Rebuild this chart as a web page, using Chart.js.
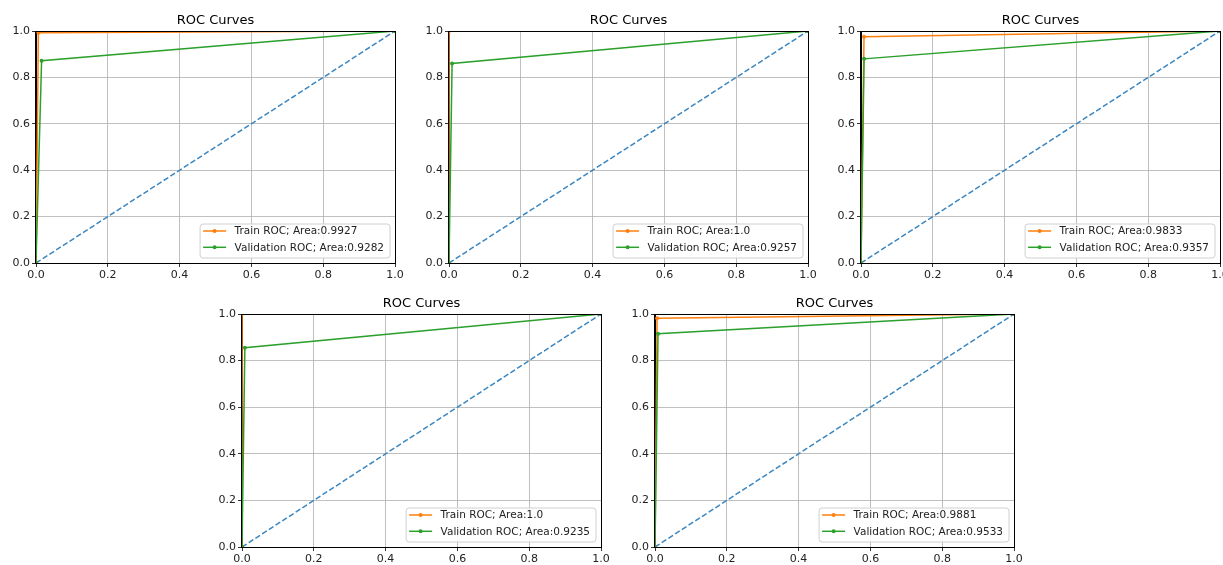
<!DOCTYPE html>
<html>
<head>
<meta charset="utf-8">
<script src="https://cdn.jsdelivr.net/npm/chart.js@4.4.0/dist/chart.umd.min.js"></script>
<style>
  body { margin: 0; background: #fff; width: 1223px; height: 565px; position: relative; overflow: hidden; }
  canvas { position: absolute; }
</style>
</head>
<body>
<canvas id="roc0"></canvas>
<canvas id="roc1"></canvas>
<canvas id="roc2"></canvas>
<canvas id="roc3"></canvas>
<canvas id="roc4"></canvas>
<script>
// dados das curvas ROC (um item por fold)
const trainAuc = ['0.9927', '1.0', '0.9833', '1.0', '0.9881'];
const valAuc = ['0.9282', '0.9257', '0.9357', '0.9235', '0.9533'];
const trainFpr = [[0, 0.0066, 1], [0, 0, 1], [0, 0.0084, 1], [0, 0, 1], [0, 0.0058, 1]];
const trainTpr = [[0, 0.992, 1], [0, 1, 1], [0, 0.975, 1], [0, 1, 1], [0, 0.982, 1]];
const valFpr = [[0, 0.0156, 1], [0, 0.0086, 1], [0, 0.0086, 1], [0, 0.008, 1], [0, 0.0084, 1]];
const valTpr = [[0, 0.872, 1], [0, 0.86, 1], [0, 0.88, 1], [0, 0.855, 1], [0, 0.915, 1]];
const chanceLine = [0, 1];
const tickValues = [0, 0.2, 0.4, 0.6, 0.8, 1.0];

// posicao da area de plotagem de cada grafico: [esquerda, topo, largura, altura]
const areas = [
    [36, 31, 359, 232],
    [449, 31, 359, 232],
    [861, 31, 359, 232],
    [242, 314, 359, 233],
    [655, 314, 359, 233]
];

const FONT = '"DejaVu Sans", sans-serif';

function pts(xs, ys) {
    return xs.map((x, i) => ({ x: x, y: ys[i] }));
}

// legenda dentro do grafico, canto inferior direito
const legendaInterna = {
    id: 'legendaInterna',
    afterDraw(chart) {
        const ctx = chart.ctx, a = chart.chartArea;
        const itens = chart.data.datasets.filter(d => d.label);
        ctx.save();
        ctx.font = '10.5px ' + FONT;
        let tw = 0;
        itens.forEach(d => { tw = Math.max(tw, ctx.measureText(d.label).width); });
        const padL = 3, padR = 6, handle = 23, gap = 8.5, rowH = 16.3;
        const w = padL + handle + gap + tw + padR;
        const h = 34;
        const x = a.right - 5 - w, y = a.bottom - 5 - h;
        ctx.beginPath();
        ctx.roundRect(x, y, w, h, 3);
        ctx.fillStyle = 'rgba(255,255,255,0.85)';
        ctx.fill();
        ctx.strokeStyle = '#d0d0d0';
        ctx.lineWidth = 1;
        ctx.stroke();
        itens.forEach((d, i) => {
            const cy = y + 7 + i * rowH;
            ctx.strokeStyle = d.borderColor;
            ctx.lineWidth = 1.5;
            ctx.beginPath();
            ctx.moveTo(x + padL, cy);
            ctx.lineTo(x + padL + handle, cy);
            ctx.stroke();
            ctx.fillStyle = d.borderColor;
            ctx.beginPath();
            ctx.arc(x + padL + handle / 2, cy, 2, 0, Math.PI * 2);
            ctx.fill();
            ctx.fillStyle = '#222';
            ctx.textBaseline = 'middle';
            ctx.textAlign = 'left';
            ctx.fillText(d.label, x + padL + handle + gap, cy + 0.5);
        });
        ctx.restore();
    }
};

// moldura (spines) por cima das linhas
const moldura = {
    id: 'moldura',
    afterDatasetsDraw(chart) {
        const ctx = chart.ctx, a = chart.chartArea;
        ctx.save();
        ctx.strokeStyle = '#000';
        ctx.lineWidth = 1;
        ctx.strokeRect(Math.round(a.left) - 0.5, Math.round(a.top) + 0.5,
            Math.round(a.right - a.left) + 1, Math.round(a.bottom - a.top));
        ctx.restore();
    }
};

function eixo(isX) {
    return {
        type: 'linear',
        min: 0,
        max: 1,
        afterBuildTicks: s => { s.ticks = tickValues.map(v => ({ value: v })); },
        afterFit: s => {
            if (isX) s.height = 22; else s.width = 36;
        },
        ticks: {
            callback: v => v.toFixed(1),
            font: { family: FONT, size: 11 },
            color: '#222',
            padding: 2,
            maxRotation: 0,
            autoSkip: false
        },
        grid: {
            color: '#b0b0b0',
            lineWidth: 0.8,
            tickColor: '#000',
            tickLength: 4
        },
        border: { color: '#000', width: 1 }
    };
}

areas.forEach((ar, k) => {
    const canvas = document.getElementById('roc' + k);
    const cw = ar[2] + 36 + 14, ch = ar[3] + 31 + 22;
    canvas.width = cw;
    canvas.height = ch;
    canvas.style.left = (ar[0] - 36) + 'px';
    canvas.style.top = (ar[1] - 31) + 'px';
    canvas.style.width = cw + 'px';
    canvas.style.height = ch + 'px';

    new Chart(canvas.getContext('2d'), {
        type: 'scatter',
        data: {
            datasets: [
                {
                    label: 'Train ROC; Area:' + trainAuc[k],
                    data: pts(trainFpr[k], trainTpr[k]),
                    showLine: true,
                    borderColor: '#ff7f0e',
                    backgroundColor: '#ff7f0e',
                    borderWidth: 1.5,
                    pointRadius: 2,
                    pointBorderWidth: 0,
                    order: 2
                },
                {
                    label: 'Validation ROC; Area:' + valAuc[k],
                    data: pts(valFpr[k], valTpr[k]),
                    showLine: true,
                    borderColor: '#2ca02c',
                    backgroundColor: '#2ca02c',
                    borderWidth: 1.5,
                    pointRadius: 2,
                    pointBorderWidth: 0,
                    order: 1
                },
                {
                    data: pts(chanceLine, chanceLine),
                    showLine: true,
                    borderColor: '#3a86c0',
                    borderWidth: 1.5,
                    borderDash: [5.5, 2.5],
                    pointRadius: 0,
                    order: 3
                }
            ]
        },
        options: {
            responsive: false,
            animation: false,
            layout: { padding: { left: 0, right: 14, top: 0, bottom: 0 } },
            plugins: {
                legend: { display: false },
                tooltip: { enabled: false },
                title: {
                    display: true,
                    fullSize: false,
                    text: 'ROC Curves',
                    color: '#000',
                    font: { family: FONT, size: 13, weight: 'normal', lineHeight: 1.2 },
                    padding: { top: 13.2, bottom: 2.2 }
                }
            },
            scales: { x: eixo(true), y: eixo(false) }
        },
        plugins: [legendaInterna, moldura]
    });
});
</script>
</body>
</html>
